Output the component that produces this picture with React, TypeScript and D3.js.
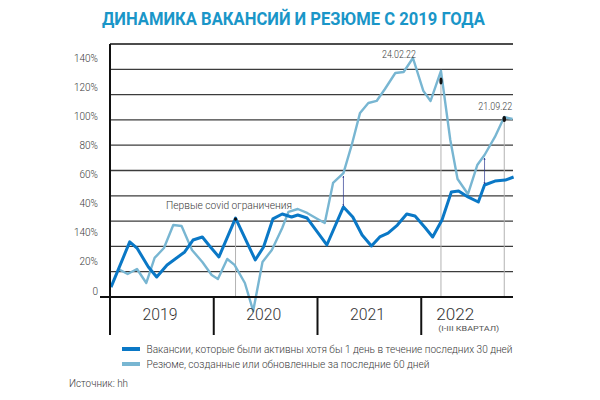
import React from "react";
import * as d3 from "d3";

const TITLE = "ДИНАМИКА ВАКАНСИЙ И РЕЗЮМЕ С 2019 ГОДА";
const yTickLabels = ["0", "20%", "140%", "40%", "60%", "80%", "100%", "120%", "140%"];
const yearLabels = ["2019", "2020", "2021", "2022"];
const yearStarts = [2019, 2020, 2021, 2022];

// [fractional year, value in % of the chart's left labels]
const vacancies: [number, number][] = [
  [2019.01, 2.7], [2019.19, 33.7], [2019.26, 29.5], [2019.37, 16.5], [2019.45, 9.6],
  [2019.55, 17.9], [2019.72, 26.8], [2019.8, 35.0], [2019.89, 37.1], [2019.96, 30.9],
  [2020.05, 23.4], [2020.21, 50.1], [2020.4, 21.3], [2020.48, 30.2], [2020.57, 49.5],
  [2020.66, 52.9], [2020.75, 50.8], [2020.81, 52.2], [2020.9, 50.1], [2021.09, 31.6],
  [2021.25, 57.7], [2021.34, 50.8], [2021.43, 38.5], [2021.52, 30.9], [2021.6, 37.1],
  [2021.68, 39.8], [2021.77, 45.3], [2021.86, 52.9], [2021.94, 51.5], [2022.04, 43.3],
  [2022.11, 37.1], [2022.2, 48.8], [2022.29, 68.0], [2022.36, 68.7], [2022.45, 64.6],
  [2022.55, 61.1], [2022.61, 72.8], [2022.71, 75.5], [2022.81, 76.2], [2022.89, 78.3],
];

const resumes: [number, number][] = [
  [2019.08, 15.1], [2019.17, 11.7], [2019.26, 15.1], [2019.35, 5.5], [2019.43, 22.7],
  [2019.52, 29.5], [2019.61, 45.3], [2019.69, 44.6], [2019.79, 28.2], [2019.89, 19.9],
  [2019.98, 11.0], [2020.04, 8.2], [2020.13, 22.0], [2020.2, 17.9], [2020.3, 5.5],
  [2020.38, -13.7], [2020.47, 19.9], [2020.56, 28.2], [2020.66, 43.3], [2020.72, 54.3],
  [2020.81, 56.3], [2020.9, 53.6], [2021.0, 49.5], [2021.07, 46.7], [2021.15, 74.2],
  [2021.25, 81.0], [2021.33, 100.3], [2021.41, 122.3], [2021.49, 129.1], [2021.57, 130.5],
  [2021.65, 138.7], [2021.75, 149.7], [2021.83, 150.4], [2021.92, 160.0], [2022.02, 137.4],
  [2022.09, 130.5], [2022.19, 151.1], [2022.28, 103.7], [2022.35, 76.9], [2022.45, 66.6],
  [2022.54, 86.5], [2022.61, 93.4], [2022.71, 105.8], [2022.8, 119.5], [2022.88, 118.1],
];

const legendLabels = [
  "Вакансии, которые были активны хотя бы 1 день в течение последних 30 дней",
  "Резюме, созданные или обновленные за последние 60 дней",
];
const refLines = [
  { x: 2020.21, v: 50.1 },
  { x: 2022.19, v: 151.1 },
  { x: 2022.8, v: 119.5 },
];
const arrows = [
  { x: 2021.25, v1: 57.7, v2: 81.0 },
  { x: 2022.61, v1: 72.8, v2: 93.4 },
];
const dateNotes = [
  { label: "24.02.22", x: 2021.92, v: 160.0 },
  { label: "21.09.22", x: 2022.8, v: 119.5 },
];

const DARK = "#0a78c6";
const LIGHT = "#78b6d2";
const TXT = "#3a3a3a";
const FONT = "Roboto, 'Noto Sans', sans-serif";

export default function App() {
  const x = d3.scaleLinear().domain([2019, 2023]).range([110, 525]);
  const y = d3.scaleLinear().domain([0, 160]).range([291, 58]);
  const grid = d3.scaleLinear().domain([0, 10]).range([297, 44]);
  const xEnd = 513;
  const line = d3
    .line<[number, number]>()
    .x((d) => x(d[0]))
    .y((d) => y(d[1]));

  const baseY = grid(0);
  const bandBottom = 335;

  return (
    <svg width={600} height={400} style={{ position: "absolute", left: 0, top: 0 }} fontFamily={FONT}>
      <defs>
        <marker id="ah" viewBox="0 0 6 6" refX="5" refY="3" markerWidth="3" markerHeight="3" orient="auto-start-reverse">
          <path d="M0,0 L6,3 L0,6 z" fill="#2b3990" />
        </marker>
      </defs>
      <rect width={600} height={400} fill="#fff" />
      <text x={102} y={25} fontSize={19} fontWeight={700} fill="#1a96c8" textLength={383} lengthAdjust="spacingAndGlyphs">
        {TITLE}
      </text>

      {/* gridlines */}
      {d3.range(1, 11).map((k) => (
        <line key={k} x1={110} x2={xEnd} y1={grid(k)} y2={grid(k)} stroke={k === 10 ? "#111" : "#3c3c3c"} strokeWidth={k === 10 ? 1.6 : 1.3} />
      ))}

      {/* y tick labels */}
      {yTickLabels.map((t, i) => (
        <text key={i} x={98} y={y(i * 20) + 3.5} fontSize={10} fontWeight={300} fill={TXT} textAnchor="end">
          {t}
        </text>
      ))}

      {/* reference lines */}
      {refLines.map((r, i) => (
        <line key={i} x1={x(r.x)} x2={x(r.x)} y1={y(r.v)} y2={baseY} stroke="#b3b3b3" strokeWidth={1} />
      ))}

      {/* series */}
      <path d={line(resumes) ?? ""} fill="none" stroke={LIGHT} strokeWidth={2.4} strokeLinejoin="round" />
      <path d={line(vacancies) ?? ""} fill="none" stroke={DARK} strokeWidth={3} strokeLinejoin="round" />

      {/* arrows */}
      {arrows.map((a, i) => (
        <line key={i} x1={x(a.x)} x2={x(a.x)} y1={y(a.v1) - 1} y2={y(a.v2) + 3} stroke="#2b3990" strokeWidth={0.7} markerStart="url(#ah)" markerEnd="url(#ah)" />
      ))}

      {/* markers */}
      <circle cx={x(refLines[0].x)} cy={y(refLines[0].v) + 1} r={1.6} fill="#111" />
      <ellipse cx={x(refLines[1].x)} cy={y(refLines[1].v) + 10} rx={1.6} ry={3.5} fill="#111" />
      <ellipse cx={x(refLines[2].x)} cy={y(refLines[2].v) + 2} rx={1.8} ry={3} fill="#111" />

      {/* annotations */}
      <text x={166} y={209} fontSize={11} fontWeight={300} fill={TXT} textLength={126} lengthAdjust="spacingAndGlyphs">
        Первые covid ограничения
      </text>
      <text x={x(dateNotes[0].x) - 14} y={y(dateNotes[0].v)} fontSize={10} fontWeight={300} fill={TXT} textAnchor="middle" textLength={34} lengthAdjust="spacingAndGlyphs">
        {dateNotes[0].label}
      </text>
      <text x={x(dateNotes[1].x) - 9} y={y(dateNotes[1].v) - 7} fontSize={10} fontWeight={300} fill={TXT} textAnchor="middle" textLength={34} lengthAdjust="spacingAndGlyphs">
        {dateNotes[1].label}
      </text>

      {/* axes */}
      <line x1={100} x2={xEnd} y1={baseY} y2={baseY} stroke="#111" strokeWidth={2} />
      <line x1={110} x2={110} y1={grid(10)} y2={bandBottom} stroke="#111" strokeWidth={2} />
      {yearStarts.slice(1).map((yr) => (
        <line key={yr} x1={x(yr)} x2={x(yr)} y1={baseY} y2={bandBottom} stroke="#111" strokeWidth={2} />
      ))}

      {/* year labels */}
      {yearLabels.slice(0, 3).map((t, i) => (
        <text key={t} x={(x(yearStarts[i]) + x(yearStarts[i] + 1)) / 2 - 2} y={319.5} fontSize={17} fontWeight={300} fill="#333" textAnchor="middle" textLength={35} lengthAdjust="spacingAndGlyphs">
          {t}
        </text>
      ))}
      <text x={x(2022) + 15} y={319.5} fontSize={17} fontWeight={300} fill="#333" textLength={38} lengthAdjust="spacingAndGlyphs">
        {yearLabels[3]}
      </text>
      <text x={x(2022) + 17} y={330.5} fontSize={8} fill="#555" textLength={61} lengthAdjust="spacingAndGlyphs">
        (I-III КВАРТАЛ)
      </text>

      {/* legend */}
      <rect x={122} y={347} width={18} height={4} fill={DARK} />
      <rect x={122} y={362} width={18} height={4} fill={LIGHT} />
      <text x={146.5} y={353} fontSize={11} fontWeight={300} fill={TXT} textLength={366} lengthAdjust="spacingAndGlyphs">
        {legendLabels[0]}
      </text>
      <text x={146.5} y={368} fontSize={11} fontWeight={300} fill={TXT} textLength={283} lengthAdjust="spacingAndGlyphs">
        {legendLabels[1]}
      </text>
      <text x={69} y={387} fontSize={11} fontWeight={300} fill={TXT} textLength={59} lengthAdjust="spacingAndGlyphs">
        Источник: hh
      </text>
    </svg>
  );
}
